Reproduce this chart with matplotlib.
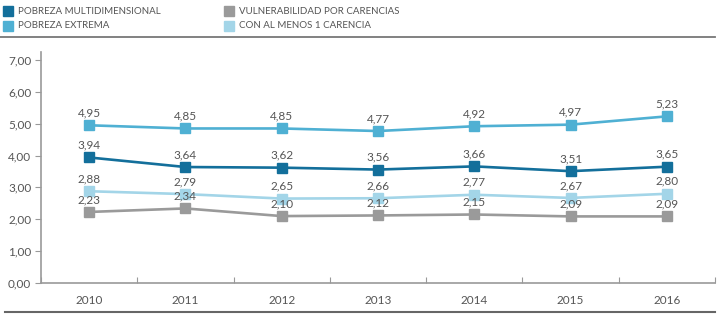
import matplotlib.pyplot as plt
from matplotlib.lines import Line2D

# data
years = ['2010', '2011', '2012', '2013', '2014', '2015', '2016']
multidimensional = [3.94, 3.64, 3.62, 3.56, 3.66, 3.51, 3.65]
extrema = [4.95, 4.85, 4.85, 4.77, 4.92, 4.97, 5.23]
vulnerabilidad = [2.23, 2.34, 2.10, 2.12, 2.15, 2.09, 2.09]
al_menos_1 = [2.88, 2.79, 2.65, 2.66, 2.77, 2.67, 2.80]

c_multi = '#136f9b'
c_ext = '#4fb0d3'
c_vul = '#9a9a9a'
c_uno = '#a3d5e8'
txt = '#555555'

plt.rcParams['font.family'] = ['Lato', 'DejaVu Sans']

fig = plt.figure(figsize=(7.25, 3.2), dpi=100)
ax = fig.add_axes([41 / 725, 1 - 283 / 320, 674 / 725, 231 / 320])

x = range(len(years))
series = [(extrema, c_ext), (multidimensional, c_multi), (al_menos_1, c_uno), (vulnerabilidad, c_vul)]
for vals, col in series:
    ax.plot(x, vals, color=col, lw=1.9, marker='s', markersize=6.5)
    for i, v in enumerate(vals):
        ax.annotate(f'{v:.2f}'.replace('.', ','), (i, v), xytext=(0, 5),
                    textcoords='offset points', ha='center', va='bottom',
                    fontsize=8.5, color=txt)

ax.set_xlim(-0.5, 6.5)
ax.set_ylim(0, 7.25)
ax.set_yticks([0, 1, 2, 3, 4, 5, 6, 7])
ax.set_yticklabels([f'{t:.2f}'.replace('.', ',') for t in range(8)], fontsize=8.5, color=txt)
ax.set_xticks([i - 0.5 for i in range(8)], minor=False)
ax.set_xticklabels([])
ax.set_xticks(list(x), minor=True)
ax.set_xticklabels(years, minor=True, fontsize=8.5, color=txt)
ax.tick_params(axis='x', which='minor', length=0, pad=9)
ax.tick_params(axis='x', which='major', length=4, direction='in', color='#999999')
ax.tick_params(axis='y', length=4, color='#999999', pad=3)
for s in ['top', 'right']:
    ax.spines[s].set_visible(False)
for s in ['left', 'bottom']:
    ax.spines[s].set_color('#999999')
    ax.spines[s].set_linewidth(1.2)

# legend drawn by hand in figure coordinates
legend = [('POBREZA MULTIDIMENSIONAL', c_multi, 8, 11),
          ('POBREZA EXTREMA', c_ext, 8, 26),
          ('VULNERABILIDAD POR CARENCIAS', c_vul, 229, 11),
          ('CON AL MENOS 1 CARENCIA', c_uno, 229, 26)]
for label, col, px, py in legend:
    fig.add_artist(Line2D([px / 725], [1 - py / 320], marker='s', color=col,
                          markersize=7, linestyle='none'))
    fig.text((px + 10) / 725, 1 - py / 320, label, fontsize=7, color=txt, va='center')

fig.add_artist(Line2D([0, 715 / 725], [1 - 37 / 320] * 2, color='#777777', lw=1.3))
fig.add_artist(Line2D([5 / 725, 715 / 725], [1 - 312 / 320] * 2, color='#666666', lw=1.5))

fig.savefig('out.png', dpi=100)
